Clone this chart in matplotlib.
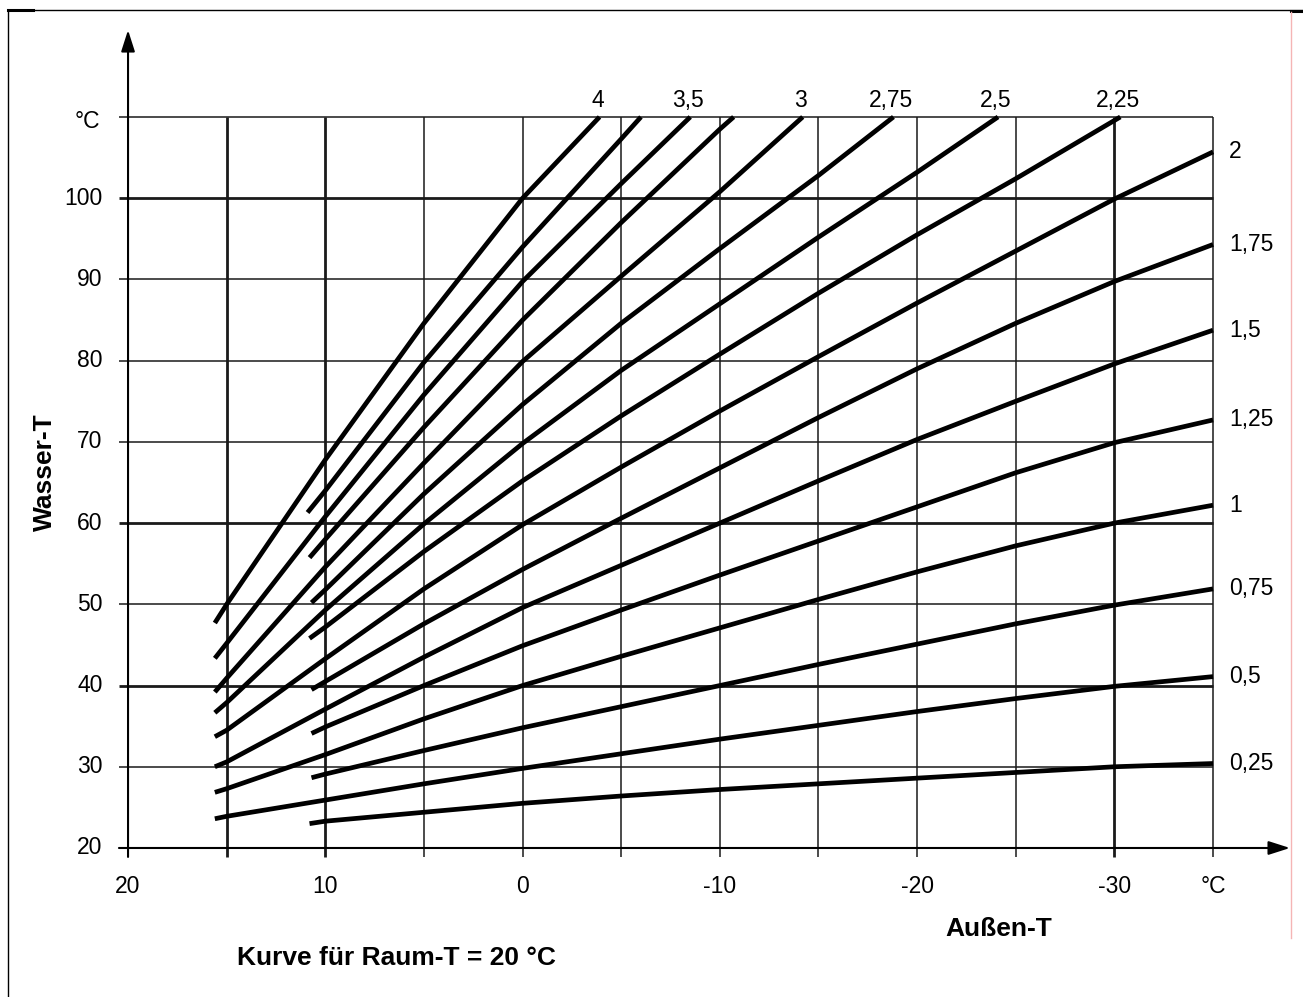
import matplotlib

matplotlib.use("Agg")
import matplotlib.pyplot as plt

plt.rcParams["font.family"] = ["Liberation Sans", "DejaVu Sans"]

# curve labels (slope of heating curve), ordered steep -> flat
SLOPES = ["4", "3,75", "3,5", "3,25", "3", "2,75", "2,5", "2,25",
          "2", "1,75", "1,5", "1,25", "1", "0,75", "0,5", "0,25"]
# slopes whose label is printed at the top edge
TOP_LABELED = ["4", "3,5", "3", "2,75", "2,5", "2,25"]

# outside temperature (x) and water temperature (y)
CURVE_X = [
    [15.6, 15, 10, 5, 0, -3.9],
    [10.9, 10, 5, 0, -5, -6.0],
    [15.6, 15, 10, 5, 0, -5, -8.5],
    [10.8, 10, 5, 0, -5, -10, -10.7],
    [15.6, 15, 10, 5, 0, -5, -10, -14.2],
    [10.7, 10, 5, 0, -5, -10, -15, -18.8],
    [15.6, 15, 10, 5, 0, -5, -10, -15, -20, -24.1],
    [10.8, 10, 5, 0, -5, -10, -15, -20, -25, -30.3],
    [15.6, 15, 10, 5, 0, -5, -10, -15, -20, -25, -30, -35],
    [10.7, 10, 5, 0, -5, -10, -15, -20, -25, -30, -35],
    [15.6, 15, 10, 5, 0, -5, -10, -15, -20, -25, -30, -35],
    [10.7, 10, 5, 0, -5, -10, -15, -20, -25, -30, -35],
    [15.6, 15, 10, 5, 0, -5, -10, -15, -20, -25, -30, -35],
    [10.7, 10, 5, 0, -5, -10, -15, -20, -25, -30, -35],
    [15.6, 15, 10, 5, 0, -5, -10, -15, -20, -25, -30, -35],
    [10.8, 10, 5, 0, -5, -10, -15, -20, -25, -30, -35],
]
CURVE_Y = [
    [47.7, 50.0, 67.8, 84.6, 100.0, 110.0],
    [61.3, 64.0, 79.8, 94.0, 107.3, 110.0],
    [43.35, 45.2, 60.8, 75.8, 89.75, 101.8, 110.0],
    [55.75, 58.0, 71.8, 85.0, 97.0, 108.5, 110.0],
    [39.2, 40.9, 54.6, 67.4, 79.9, 90.4, 100.8, 110.0],
    [50.2, 51.8, 63.6, 74.6, 84.6, 93.8, 102.8, 110.0],
    [36.65, 37.9, 49.3, 59.9, 69.8, 78.8, 87.0, 95.2, 103.2, 110.0],
    [45.8, 47.2, 56.5, 65.2, 73.2, 80.8, 88.3, 95.5, 102.4, 110.0],
    [33.7, 34.5, 43.3, 51.9, 59.8, 66.9, 73.8, 80.5, 87.1, 93.5, 99.9, 105.7],
    [39.5, 40.5, 47.6, 54.3, 60.6, 66.8, 73.0, 79.0, 84.6, 89.75, 94.3],
    [30.0, 30.6, 37.1, 43.5, 49.6, 54.8, 60.0, 65.2, 70.3, 75.0, 79.6, 83.75],
    [34.1, 34.9, 40.0, 44.9, 49.3, 53.6, 57.8, 62.0, 66.2, 69.9, 72.7],
    [26.85, 27.3, 31.5, 35.9, 40.0, 43.6, 47.1, 50.6, 54.0, 57.2, 60.0, 62.2],
    [28.65, 29.1, 32.0, 34.8, 37.4, 40.0, 42.6, 45.1, 47.6, 49.9, 51.9],
    [23.6, 23.9, 25.9, 27.9, 29.8, 31.6, 33.4, 35.1, 36.8, 38.4, 39.9, 41.1],
    [23.0, 23.3, 24.4, 25.5, 26.4, 27.2, 27.9, 28.6, 29.3, 30.0, 30.4],
]

X_TICKS = [20, 10, 0, -10, -20, -30]
X_TICK_LABELS = ["20", "10", "0", "-10", "-20", "-30"]
X_GRID = [15, 10, 5, 0, -5, -10, -15, -20, -25, -30, -35]
X_GRID_BOLD = [15, 10, -30]
Y_TICKS = [20, 30, 40, 50, 60, 70, 80, 90, 100]
Y_GRID = [30, 40, 50, 60, 70, 80, 90, 100, 110]
Y_GRID_BOLD = [40, 60, 100]

X_MIN, X_MAX = -35, 20
Y_MIN, Y_MAX = 20, 110


fig = plt.figure(figsize=(13.03, 9.97), dpi=100)
ax = fig.add_axes([0, 0, 1, 1])
ax.set_axis_off()
# full-figure axes, limits chosen so the plot area sits where the original one does
ax.set_xlim(26.49, -39.56)
ax.set_ylim(1.655, 124.40)

# grid
for x in X_GRID:
    lw = 2.0 if x in X_GRID_BOLD else 1.1
    ax.plot([x, x], [18.9, Y_MAX], color="#1a1a1a", lw=lw, solid_capstyle="butt")
for y in Y_GRID:
    lw = 2.0 if y in Y_GRID_BOLD else 1.1
    ax.plot([20.46, X_MIN], [y, y], color="#1a1a1a", lw=lw, solid_capstyle="butt")

# axes with arrows
ax.annotate("", xy=(20, 120.7), xytext=(20, 18.9),
            arrowprops=dict(arrowstyle="-|>,head_length=1.0,head_width=0.32",
                            mutation_scale=13, lw=1.5, color="black", shrinkA=0, shrinkB=0))
ax.annotate("", xy=(-38.9, 20), xytext=(20.46, 20),
            arrowprops=dict(arrowstyle="-|>,head_length=1.0,head_width=0.32",
                            mutation_scale=13, lw=1.5, color="black", shrinkA=0, shrinkB=0))

# heating curves
for label, xs, ys in zip(SLOPES, CURVE_X, CURVE_Y):
    ax.plot(xs, ys, color="black", lw=3.4, solid_capstyle="butt", solid_joinstyle="round")
    if ys[-1] >= Y_MAX:
        if label in TOP_LABELED:
            ax.text(xs[-1] + 0.1, Y_MAX + 0.6, label, ha="center", va="bottom", fontsize=16.5)
    else:
        ax.text(X_MIN - 0.8, ys[-1], label, ha="left", va="center", fontsize=16.5)

# tick labels
for y in Y_TICKS:
    ax.text(21.3, y, str(y), ha="right", va="center", fontsize=16.5)
ax.text(21.4, Y_MAX - 0.6, "°C", ha="right", va="center", fontsize=16.5)
for x, lab in zip(X_TICKS, X_TICK_LABELS):
    ax.text(x, 15.2, lab, ha="center", va="center", fontsize=16.5)
ax.text(X_MIN, 15.2, "°C", ha="center", va="center", fontsize=16.5)

# axis titles
ax.text(24.2, 66.3, "Wasser-T", rotation=90, ha="center", va="center",
        fontsize=19, fontweight="bold")
ax.text(-24.15, 10.0, "Außen-T", ha="center", va="center", fontsize=19, fontweight="bold")
ax.text(6.4, 6.5, "Kurve für Raum-T = 20 °C", ha="center", va="center",
        fontsize=19, fontweight="bold")

# page frame
W, H = 1303, 997
frame = ax.transAxes
ax.plot([8 / W, 8 / W], [0, 1 - 10 / H], color="black", lw=1.0, transform=frame)
ax.plot([8 / W, 1], [1 - 10 / H, 1 - 10 / H], color="black", lw=1.0, transform=frame)
ax.plot([8 / W, 33 / W], [1 - 10 / H, 1 - 10 / H], color="black", lw=2.2, transform=frame)
ax.plot([1291 / W, 1], [1 - 11 / H, 1 - 11 / H], color="black", lw=2.2, transform=frame)
ax.plot([1291 / W, 1291 / W], [1 - 12 / H, 1 - 938 / H], color="#f5b5b5", lw=1.0, transform=frame)

fig.savefig("out.png", dpi=100)
